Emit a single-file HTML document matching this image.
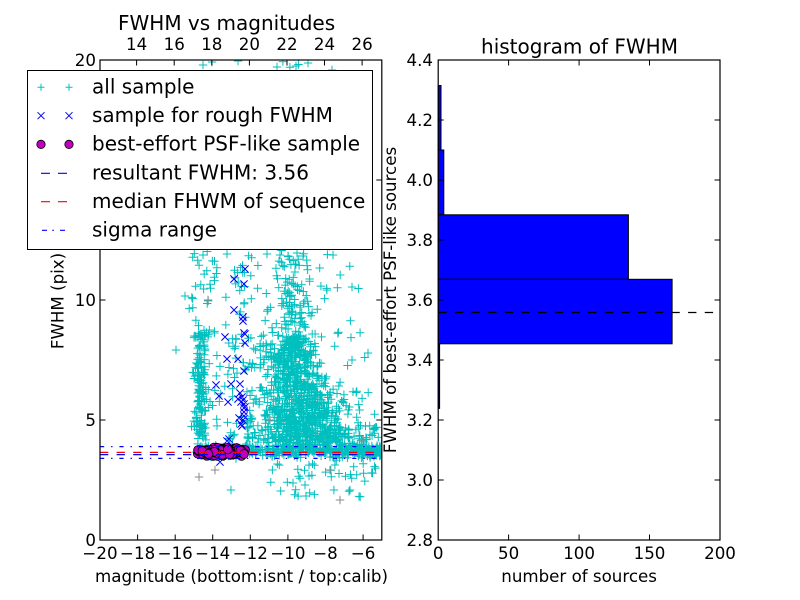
<!DOCTYPE html>
<html><head><meta charset="utf-8">
<style>
html,body{margin:0;padding:0;background:#fff;}
svg{display:block;font-family:"DejaVu Sans","Liberation Sans",sans-serif;}
</style></head>
<body>
<svg id="fig" width="800" height="600" viewBox="0 0 800 600" xmlns="http://www.w3.org/2000/svg">
<defs><clipPath id="c1"><rect x="100" y="60" width="281.8" height="480"/></clipPath></defs>
<rect width="800" height="600" fill="#fff"/>

<!-- LEFT AXES DATA -->
<g clip-path="url(#c1)">
  <path id="cy" fill="none" stroke="#00bfbf" stroke-width="1"/>
  <path id="gr" fill="none" stroke="#8a8a8a" stroke-width="1"/>
  <path id="bx" fill="none" stroke="#0000ff" stroke-width="1"/>
  <g id="mc" fill="#bf00bf" stroke="#000" stroke-width="0.8"></g>
  <line x1="100" y1="446.6" x2="382" y2="446.6" stroke="#0000ff" stroke-width="1.2" stroke-dasharray="4.2 6.9 1.4 6.9"/>
  <line x1="100" y1="458.4" x2="382" y2="458.4" stroke="#0000ff" stroke-width="1.2" stroke-dasharray="4.2 6.9 1.4 6.9"/>
  <line x1="100" y1="452.4" x2="382" y2="452.4" stroke="#ff0000" stroke-width="1.2" stroke-dasharray="8.3 8.3"/>
  <line x1="100" y1="454.6" x2="382" y2="454.6" stroke="#0000ff" stroke-width="1.2" stroke-dasharray="8.3 8.3"/>
</g>

<!-- LEFT AXES FRAME + TICKS -->
<rect x="100" y="60" width="281.8" height="480" fill="none" stroke="#000" stroke-width="1.2"/>
<g stroke="#000" stroke-width="1">
  <path d="M100 540v-5.5M137.6 540v-5.5M175.2 540v-5.5M212.7 540v-5.5M250.3 540v-5.5M287.9 540v-5.5M325.5 540v-5.5M363.1 540v-5.5"/>
  <path d="M136.6 60v5.5M174.2 60v5.5M211.8 60v5.5M249.4 60v5.5M287 60v5.5M324.5 60v5.5M362.1 60v5.5"/>
  <path d="M100 540h5.5M100 420h5.5M100 300h5.5M100 180h5.5M100 60h5.5"/>
  <path d="M381.8 540h-5.5M381.8 420h-5.5M381.8 300h-5.5M381.8 180h-5.5M381.8 60h-5.5"/>
</g>
<g font-size="16.67" fill="#000" text-anchor="middle">
  <text x="100" y="559">−20</text>
  <text x="137.6" y="559">−18</text>
  <text x="175.2" y="559">−16</text>
  <text x="212.7" y="559">−14</text>
  <text x="250.3" y="559">−12</text>
  <text x="287.9" y="559">−10</text>
  <text x="325.5" y="559">−8</text>
  <text x="363.1" y="559">−6</text>
  <text x="136.6" y="50">14</text>
  <text x="174.2" y="50">16</text>
  <text x="211.8" y="50">18</text>
  <text x="249.4" y="50">20</text>
  <text x="287" y="50">22</text>
  <text x="324.5" y="50">24</text>
  <text x="362.1" y="50">26</text>
</g>
<g font-size="16.67" fill="#000" text-anchor="end">
  <text x="96" y="546">0</text>
  <text x="96" y="426">5</text>
  <text x="96" y="306">10</text>
  <text x="96" y="186">15</text>
  <text x="96" y="66">20</text>
</g>
<text x="118" y="30" font-size="20">FWHM vs magnitudes</text>
<text x="241.5" y="582" font-size="16.67" text-anchor="middle">magnitude (bottom:isnt / top:calib)</text>
<text transform="translate(63.3,301) rotate(-90)" font-size="16.67" text-anchor="middle">FWHM (pix)</text>

<!-- LEGEND -->
<rect x="27.5" y="70.5" width="345" height="179" fill="#fff" stroke="#000" stroke-width="1"/>
<path d="M37.5 87.3h7M41 83.8v7M65.5 87.3h7M69 83.8v7" stroke="#00bfbf" stroke-width="1" fill="none"/>
<path d="M37.5 112.2l7 7M37.5 119.2l7 -7M65.5 112.2l7 7M65.5 119.2l7 -7" stroke="#0000ff" stroke-width="1" fill="none"/>
<circle cx="41" cy="144.4" r="4.2" fill="#bf00bf" stroke="#000" stroke-width="0.8"/>
<circle cx="69" cy="144.4" r="4.2" fill="#bf00bf" stroke="#000" stroke-width="0.8"/>
<path d="M41 173.3h9M58 173.3h9" stroke="#0000ff" stroke-width="1.2"/>
<path d="M41 201.7h9M58 201.7h9" stroke="#ff0000" stroke-width="1.2"/>
<path d="M42 230.3h5M52.3 230.3h1.6M60 230.3h5" stroke="#0000ff" stroke-width="1.2"/>
<g font-size="20" fill="#000">
  <text x="92" y="93.5">all sample</text>
  <text x="92" y="122.1">sample for rough FWHM</text>
  <text x="92" y="150.7">best-effort PSF-like sample</text>
  <text x="92" y="179.3">resultant FWHM: 3.56</text>
  <text x="92" y="207.9">median FHWM of sequence</text>
  <text x="92" y="236.5">sigma range</text>
</g>

<!-- RIGHT AXES -->
<g fill="#0000ff" stroke="#000" stroke-width="1">
  <rect x="438.2" y="85.5" width="2.8" height="64.5"/>
  <rect x="438.2" y="150" width="5.6" height="64.8"/>
  <rect x="438.2" y="214.8" width="190.2" height="64.5"/>
  <rect x="438.2" y="279.3" width="233.9" height="64.5"/>
  <rect x="438.2" y="343.8" width="1.4" height="64.6"/>
</g>
<line x1="438.2" y1="312.5" x2="720" y2="312.5" stroke="#000" stroke-width="1.2" stroke-dasharray="8.33 8.33"/>
<rect x="438.2" y="60" width="281.8" height="480" fill="none" stroke="#000" stroke-width="1.2"/>
<g stroke="#000" stroke-width="1">
  <path d="M508.6 540v-5.5M579.1 540v-5.5M649.5 540v-5.5M508.6 60v5.5M579.1 60v5.5M649.5 60v5.5"/>
  <path d="M438.2 120h5.5M438.2 180h5.5M438.2 240h5.5M438.2 300h5.5M438.2 360h5.5M438.2 420h5.5M438.2 480h5.5"/>
  <path d="M720 120h-5.5M720 180h-5.5M720 240h-5.5M720 300h-5.5M720 360h-5.5M720 420h-5.5M720 480h-5.5"/>
</g>
<g font-size="16.67" fill="#000" text-anchor="middle">
  <text x="438.2" y="559">0</text>
  <text x="508.6" y="559">50</text>
  <text x="579.1" y="559">100</text>
  <text x="649.5" y="559">150</text>
  <text x="720" y="559">200</text>
</g>
<g font-size="16.67" fill="#000" text-anchor="end">
  <text x="433" y="66">4.4</text>
  <text x="433" y="126">4.2</text>
  <text x="433" y="186">4.0</text>
  <text x="433" y="246">3.8</text>
  <text x="433" y="306">3.6</text>
  <text x="433" y="366">3.4</text>
  <text x="433" y="426">3.2</text>
  <text x="433" y="486">3.0</text>
  <text x="433" y="546">2.8</text>
</g>
<text x="579.5" y="53.3" font-size="20" text-anchor="middle">histogram of FWHM</text>
<text x="579.1" y="582" font-size="16.67" text-anchor="middle">number of sources</text>
<text transform="translate(396,300) rotate(-90)" font-size="16.67" text-anchor="middle">FWHM of best-effort PSF-like sources</text>
</svg>

<script>
(function(){
function mb(a){return function(){a|=0;a=a+0x6D2B79F5|0;var t=Math.imul(a^a>>>15,1|a);t=t+Math.imul(t^t>>>7,61|t)^t;return((t^t>>>14)>>>0)/4294967296;};}
var R=mb(20240611);
function N(){var u=R()||1e-9,v=R();return Math.sqrt(-2*Math.log(u))*Math.cos(6.283185*v);}
var cy=[],gr=[],bx=[];
function P(a,x,y,h){h=h||4.2;a.push('M'+(x-h).toFixed(1)+' '+y.toFixed(1)+'h'+(2*h).toFixed(1)+'M'+x.toFixed(1)+' '+(y-h).toFixed(1)+'v'+(2*h).toFixed(1));}
function X(a,x,y){var h=3.6;a.push('M'+(x-h).toFixed(1)+' '+(y-h).toFixed(1)+'l'+(2*h)+' '+(2*h)+'M'+(x-h).toFixed(1)+' '+(y+h).toFixed(1)+'l'+(2*h)+' '+(-2*h));}
var i,x,y,t,s;
// dense band
for(i=0;i<380;i++){x=196+R()*186;y=451+N()*2.6;P(cy,x,y);}
// main core (triangle widening downward)
for(i=0;i<550;i++){y=335+R()*110;s=6+(y-320)*0.13;x=299+(y-400)*0.1+N()*s;P(cy,x,y);}
for(i=0;i<300;i++){t=Math.abs(N());y=447-t*40;s=8+Math.max(0,y-320)*0.12;x=302+N()*s;P(cy,x,y);}
// tower above core
for(i=0;i<90;i++){x=293+N()*12;y=250+R()*85;P(cy,x,y);}
for(i=0;i<40;i++){x=292+N()*15;y=60+R()*190;P(cy,x,y);}
// left moderate zone of core
for(i=0;i<60;i++){x=247+R()*28;y=330+R()*112;P(cy,x,y);}
// right side
for(i=0;i<90;i++){x=325+Math.abs(N())*25;y=443+N()*11;P(cy,x,y);}
for(i=0;i<35;i++){x=328+R()*50;y=390+R()*50;P(cy,x,y);}
// left column
for(i=0;i<150;i++){x=201+N()*3.5;y=335+R()*105;P(cy,x,y);}
for(i=0;i<30;i++){x=201+N()*6;y=250+R()*90;P(cy,x,y);}
// middle sparse
for(i=0;i<60;i++){x=212+R()*40;y=250+R()*190;P(cy,x,y);}
// upper sparse
for(i=0;i<60;i++){x=288+N()*25;y=60+R()*190;P(cy,x,y);}
for(i=0;i<55;i++){x=225+R()*140;y=250+R()*120;P(cy,x,y);}
// outliers below
for(i=0;i<35;i++){x=270+R()*105;y=462+R()*36;P(cy,x,y);}
var fx=[[203,65],[212,62],[238,61],[277,67],[296,66],[308,63],[332,70],[203,255],[227,254],[267,254],[280,255],[288,256],[297,253],[303,256],[333,255],[231,490],[306,496],[305,485],[293,483],[350,490],[352,287],[368,353],[176,350],[185,296],[352,360]];
fx.forEach(function(p){P(cy,p[0],p[1]);});
[[199,477],[208,300],[362,440],[330,470],[270,420],[215,470],[340,500]].forEach(function(p){P(gr,p[0],p[1]);});
document.getElementById('cy').setAttribute('d',cy.join(''));
document.getElementById('gr').setAttribute('d',gr.join(''));
// blue x
var bl=[[245,269],[234,279],[244,284],[234,310],[243,317],[243,321],[244,333],[225,337],[245,334],[245,343],[227,359],[238,359],[244,371],[216,385],[231,384],[240,384],[219,396],[228,402],[240,393],[242,397],[243,400],[244,404],[241,402],[244,408],[244,412],[244,416],[243,420],[241,424],[239,418],[242,426],[227,441],[229,439],[220,462],[238,399],[245,407]];
bl.forEach(function(p){X(bx,p[0],p[1]);});
document.getElementById('bx').setAttribute('d',bx.join(''));
// magenta circles
var g=document.getElementById('mc'),ns='http://www.w3.org/2000/svg';
for(i=0;i<170;i++){x=197+R()*48;y=451.5+N()*2.2;if(y<447)y=447;if(y>456)y=456;
var c=document.createElementNS(ns,'circle');c.setAttribute('cx',x.toFixed(1));c.setAttribute('cy',y.toFixed(1));c.setAttribute('r','4.4');g.appendChild(c);}
})();
</script>
</body></html>
